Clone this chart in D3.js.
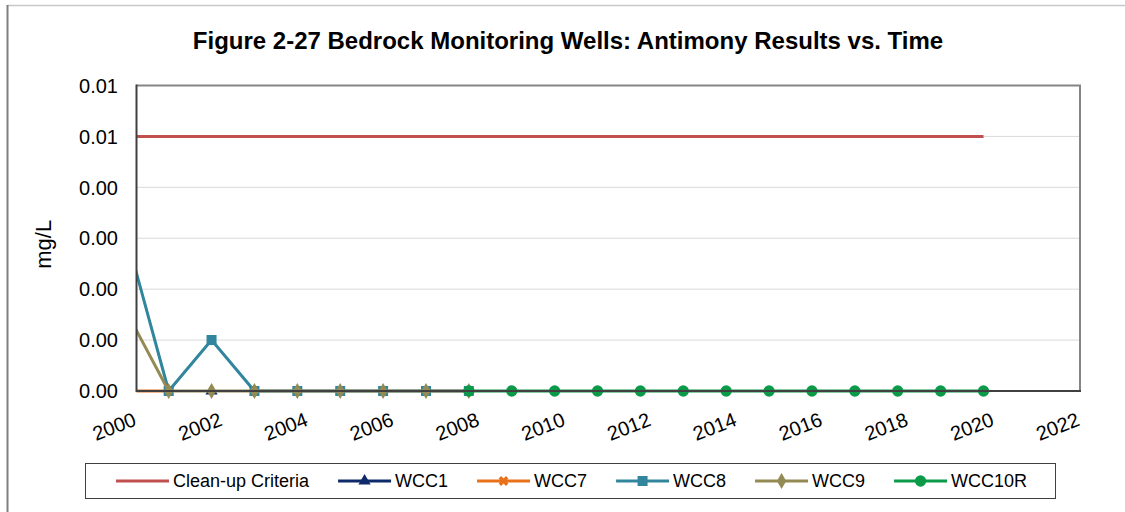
<!DOCTYPE html>
<html>
<head>
<meta charset="utf-8">
<script src="https://cdn.jsdelivr.net/npm/d3@7"></script>
<style>
    body { margin: 0; background: #fff; }
    svg { display: block; font-family: "Liberation Sans", Arial, sans-serif; }
</style>
</head>
<body>
<div id="chart"></div>
<script>
// sample dates as decimal years, values in mg/L
var cleanupYears = [1999.75, 2019.75];
var cleanupValues = [0.006, 0.006];

var wcc1Years = [2001.75];
var wcc1Values = [0];

var wcc7Years = [1999.75, 2000.75];
var wcc7Values = [0, 0];

var wcc8Years = [1999.75, 2000.75, 2001.75, 2002.75, 2003.75, 2004.75, 2005.75, 2006.75, 2007.75];
var wcc8Values = [0.0037, 0, 0.0012, 0, 0, 0, 0, 0, 0];

var wcc9Years = [1999.75, 2000.75, 2001.75, 2002.75, 2003.75, 2004.75, 2005.75, 2006.75, 2007.75];
var wcc9Values = [0.0019, 0, 0, 0, 0, 0, 0, 0, 0];

var wcc10rYears = [2007.75, 2008.75, 2009.75, 2010.75, 2011.75, 2012.75, 2013.75, 2014.75, 2015.75,
    2016.75, 2017.75, 2018.75, 2019.75];
var wcc10rValues = [0, 0, 0, 0, 0, 0, 0, 0, 0, 0, 0, 0, 0];

var xTicks = [2000, 2002, 2004, 2006, 2008, 2010, 2012, 2014, 2016, 2018, 2020, 2022];
var yTicks = [0, 0.0012, 0.0024, 0.0036, 0.0048, 0.006, 0.0072];

(function () {
    "use strict";

    var width = 1125, height = 512,
        left = 136.5, right = 1080, top = 85.5, bottom = 391;

    var series = [
        { name: "Clean-up Criteria", years: cleanupYears, values: cleanupValues, color: "#C0504D", marker: null },
        { name: "WCC1", years: wcc1Years, values: wcc1Values, color: "#0F2A6B", marker: "triangle" },
        { name: "WCC7", years: wcc7Years, values: wcc7Values, color: "#E8711A", marker: "x" },
        { name: "WCC8", years: wcc8Years, values: wcc8Values, color: "#31859C", marker: "square" },
        { name: "WCC9", years: wcc9Years, values: wcc9Values, color: "#948A54", marker: "diamond" },
        { name: "WCC10R", years: wcc10rYears, values: wcc10rValues, color: "#0B9A47", marker: "circle" }
    ];

    var x = d3.scaleLinear().domain([2000, 2022]).range([left, right]);
    var y = d3.scaleLinear().domain([0, 0.0072]).range([bottom, top]);

    var svg = d3.select("#chart").append("svg")
        .attr("width", width)
        .attr("height", height);

    // outer chart frame
    svg.append("line").attr("x1", 7).attr("x2", width).attr("y1", 5.5).attr("y2", 5.5)
        .attr("stroke", "#c8c8c8").attr("stroke-width", 1.5);
    svg.append("line").attr("x1", 7.5).attr("x2", 7.5).attr("y1", 5).attr("y2", height)
        .attr("stroke", "#808080").attr("stroke-width", 2);

    svg.append("text")
        .attr("x", 568).attr("y", 49)
        .attr("text-anchor", "middle")
        .attr("font-size", 24).attr("font-weight", "bold")
        .text("Figure 2-27 Bedrock Monitoring Wells: Antimony Results vs. Time");

    // gridlines
    svg.append("g").selectAll("line")
        .data(yTicks.slice(1, -1))
        .enter().append("line")
        .attr("x1", left).attr("x2", right)
        .attr("y1", d => y(d)).attr("y2", d => y(d))
        .attr("stroke", "#d9d9d9").attr("stroke-width", 1);

    // plot border top/right
    svg.append("path")
        .attr("d", `M${left},${top}H${right}V${bottom}`)
        .attr("fill", "none").attr("stroke", "#858585").attr("stroke-width", 2);

    // y tick labels
    svg.append("g").selectAll("text")
        .data(yTicks)
        .enter().append("text")
        .attr("x", 118).attr("y", d => y(d))
        .attr("dy", "0.36em")
        .attr("text-anchor", "end")
        .attr("font-size", 20)
        .text(d => d3.format(".2f")(d));

    svg.append("text")
        .attr("transform", `translate(51,${(top + bottom) / 2 + 6}) rotate(-90)`)
        .attr("text-anchor", "middle")
        .attr("font-size", 22)
        .text("mg/L");

    // x tick labels, rotated
    svg.append("g").selectAll("text")
        .data(xTicks)
        .enter().append("text")
        .attr("transform", d => `translate(${x(d) + 1},425) rotate(-21)`)
        .attr("text-anchor", "end")
        .attr("font-size", 20)
        .text(d => d);

    var defs = svg.append("defs");
    defs.append("clipPath").attr("id", "plotclip")
        .append("rect")
        .attr("x", left).attr("y", 0)
        .attr("width", right - left).attr("height", height);

    var symbolFor = {
        triangle: d3.symbol().type(d3.symbolTriangle).size(65),
        square: d3.symbol().type(d3.symbolSquare).size(100),
        diamond: d3.symbol().type(d3.symbolDiamond).size(75),
        circle: d3.symbol().type(d3.symbolCircle).size(100),
        x: d3.symbol().type(d3.symbolCross).size(60)
    };

    function addMarker(g, s) {
        var p = g.append("path").attr("d", symbolFor[s.marker]()).attr("fill", s.color);
        if (s.marker === "x") p.attr("transform", "rotate(45)");
    }

    var plot = svg.append("g").attr("clip-path", "url(#plotclip)");

    var line = d3.line()
        .x(d => x(d[0]))
        .y(d => y(d[1]));

    series.forEach(function (s) {
        var pts = s.years.map((yr, i) => [yr, s.values[i]]);
        plot.append("path")
            .datum(pts)
            .attr("d", line)
            .attr("fill", "none")
            .attr("stroke", s.color)
            .attr("stroke-width", 3)
            .attr("stroke-linejoin", "round");
        if (s.marker) {
            pts.forEach(function (p) {
                addMarker(plot.append("g").attr("transform", `translate(${x(p[0])},${y(p[1])})`), s);
            });
        }
    });

    // axes lines (left and bottom)
    svg.append("line").attr("x1", left).attr("x2", left).attr("y1", top - 1).attr("y2", bottom + 1)
        .attr("stroke", "#404040").attr("stroke-width", 2);
    svg.append("line").attr("x1", left).attr("x2", right + 1).attr("y1", bottom).attr("y2", bottom)
        .attr("stroke", "#404040").attr("stroke-width", 2);

    // legend
    var legend = svg.append("g");
    legend.append("rect")
        .attr("x", 85.5).attr("y", 463.5)
        .attr("width", 970).attr("height", 35)
        .attr("fill", "#fff").attr("stroke", "#404040").attr("stroke-width", 1);

    var cursor = 116;
    series.forEach(function (s) {
        var item = legend.append("g").attr("transform", `translate(${cursor},481)`);
        item.append("line").attr("x1", 0).attr("x2", 53).attr("y1", 0).attr("y2", 0)
            .attr("stroke", s.color).attr("stroke-width", 3);
        if (s.marker) addMarker(item.append("g").attr("transform", "translate(26.5,0)"), s);
        var t = item.append("text")
            .attr("x", 57).attr("y", 0).attr("dy", "0.36em")
            .attr("font-size", 18)
            .text(s.name);
        cursor += 57 + t.node().getComputedTextLength() + 29;
    });
})();
</script>
</body>
</html>
